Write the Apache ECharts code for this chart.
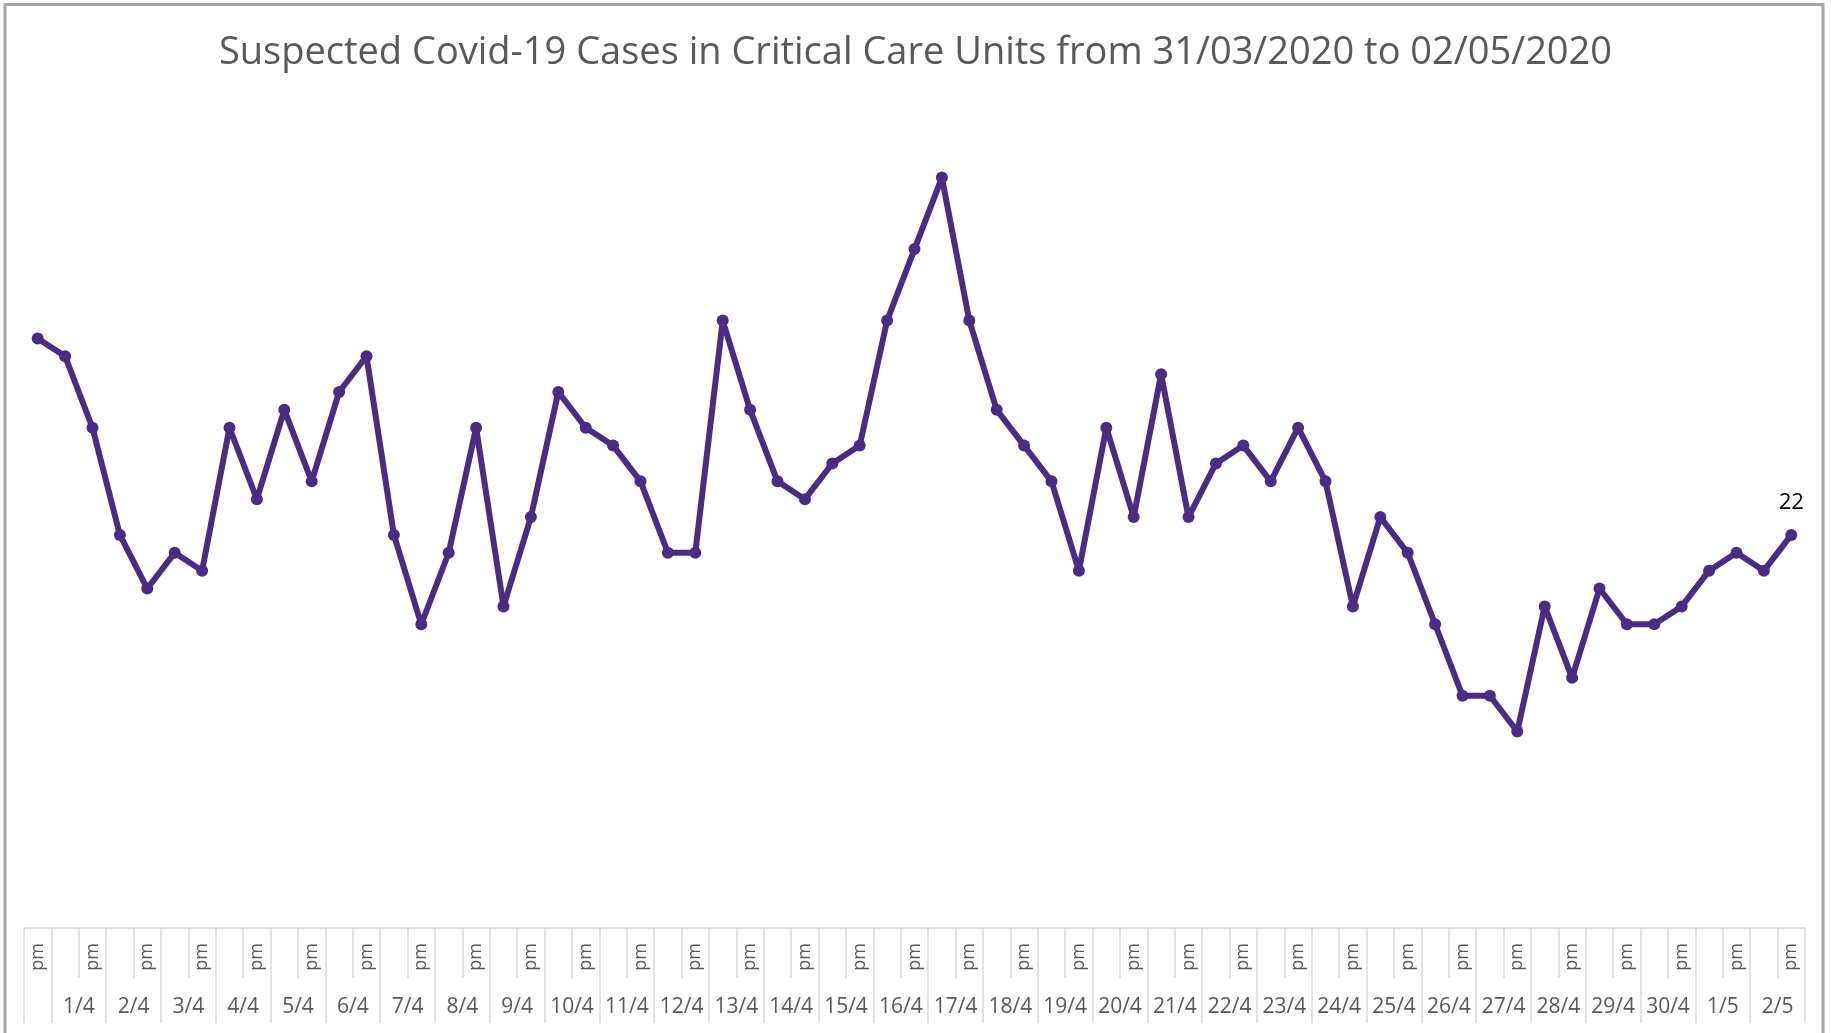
<!DOCTYPE html>
<html>
<head>
<meta charset="utf-8">
<title>Suspected Covid-19 Cases in Critical Care Units</title>
<script src="https://cdn.jsdelivr.net/npm/echarts@6/dist/echarts.min.js"></script>
<style>
  html, body {
    margin: 0;
    padding: 0;
    background: #ffffff;
  }

  #chart {
    width: 1831px;
    height: 1033px;
  }
</style>
</head>
<body>
<div id="chart"></div>
<script>
// one slot per half day, 31/3 pm .. 2/5 pm
const slotLabels = [
  'pm',
  '', 'pm', '', 'pm', '', 'pm', '', 'pm', '', 'pm',
  '', 'pm', '', 'pm', '', 'pm', '', 'pm', '', 'pm',
  '', 'pm', '', 'pm', '', 'pm', '', 'pm', '', 'pm',
  '', 'pm', '', 'pm', '', 'pm', '', 'pm', '', 'pm',
  '', 'pm', '', 'pm', '', 'pm', '', 'pm', '', 'pm',
  '', 'pm', '', 'pm', '', 'pm', '', 'pm', '', 'pm',
  '', 'pm', '', 'pm',
];

const dayLabels = [
  '1/4', '2/4', '3/4', '4/4', '5/4', '6/4', '7/4', '8/4', '9/4', '10/4',
  '11/4', '12/4', '13/4', '14/4', '15/4', '16/4', '17/4', '18/4', '19/4', '20/4',
  '21/4', '22/4', '23/4', '24/4', '25/4', '26/4', '27/4', '28/4', '29/4', '30/4',
  '1/5', '2/5',
];

// centre of each day group and the group edges, in slot units
const dayCentres = [
  2, 4, 6, 8, 10, 12, 14, 16, 18, 20,
  22, 24, 26, 28, 30, 32, 34, 36, 38, 40,
  42, 44, 46, 48, 50, 52, 54, 56, 58, 60,
  62, 64,
];
const dayEdges = [
  0, 1, 3, 5, 7, 9, 11, 13, 15, 17, 19, 21, 23, 25, 27, 29, 31, 33,
  35, 37, 39, 41, 43, 45, 47, 49, 51, 53, 55, 57, 59, 61, 63, 65,
];

const caseCounts = [
  33,
  32, 28, 22, 19, 21, 20, 28, 24, 29, 25,
  30, 32, 22, 17, 21, 28, 18, 23, 30, 28,
  27, 25, 21, 21, 34, 29, 25, 24, 26, 27,
  34, 38, 42, 34, 29, 27, 25, 20, 28, 23,
  31, 23, 26, 27, 25, 28, 25, 18, 23, 21,
  17, 13, 13, 11, 18, 14, 19, 17, 17, 18,
  20, 21, 20, 22,
];

const LINE_COLOR = '#4b2c84';
const GRID_COLOR = '#d9d9d9';
const TEXT_COLOR = '#595959';
const FONT = '"Open Sans", sans-serif';

const chart = echarts.init(document.getElementById('chart'));

chart.setOption({
  animation: false,
  backgroundColor: '#ffffff',
  title: {
    text: 'Suspected Covid-19 Cases in Critical Care Units from 31/03/2020 to 02/05/2020',
    left: 'center',
    top: 34,
    padding: 0,
    textStyle: {
      color: TEXT_COLOR,
      fontFamily: FONT,
      fontSize: 38,
      fontWeight: 'normal',
    },
  },
  graphic: [{
    type: 'rect',
    shape: { x: 5, y: 4.5, width: 1818, height: 1100 },
    style: { fill: 'none', stroke: '#a6a6a6', lineWidth: 3 },
    silent: true,
  }],
  grid: {
    left: 24,
    right: 26,
    top: 124,
    bottom: 105,
  },
  xAxis: [{
    type: 'category',
    data: slotLabels,
    boundaryGap: true,
    position: 'bottom',
    axisLine: {
      lineStyle: { color: GRID_COLOR, width: 1.5 },
    },
    axisTick: {
      show: true,
      alignWithLabel: false,
      interval: 0,
      length: 50,
      lineStyle: { color: GRID_COLOR, width: 1.5 },
    },
    axisLabel: {
      interval: 0,
      rotate: 90,
      margin: 15,
      color: TEXT_COLOR,
      fontFamily: FONT,
      fontSize: 18,
    },
    splitLine: { show: false },
  }, {
    type: 'value',
    min: 0,
    max: slotLabels.length,
    position: 'bottom',
    axisLine: { show: false },
    axisTick: {
      show: true,
      customValues: dayEdges,
      length: 95,
      lineStyle: { color: GRID_COLOR, width: 1.5 },
    },
    axisLabel: {
      customValues: dayCentres,
      margin: 69,
      color: TEXT_COLOR,
      fontFamily: FONT,
      fontSize: 21,
      formatter: (value) => dayLabels[dayCentres.indexOf(value)] || '',
    },
    splitLine: { show: false },
  }],
  yAxis: {
    type: 'value',
    min: 0,
    max: 45,
    show: false,
  },
  series: [{
    type: 'line',
    xAxisIndex: 0,
    data: caseCounts,
    symbol: 'circle',
    symbolSize: 12,
    showSymbol: true,
    lineStyle: { color: LINE_COLOR, width: 6 },
    itemStyle: { color: LINE_COLOR },
    label: {
      show: true,
      position: 'top',
      distance: 15,
      color: '#000000',
      fontFamily: FONT,
      fontSize: 22,
      formatter: (p) => (p.dataIndex === caseCounts.length - 1 ? String(p.value) : ''),
    },
  }],
});
</script>
</body>
</html>
